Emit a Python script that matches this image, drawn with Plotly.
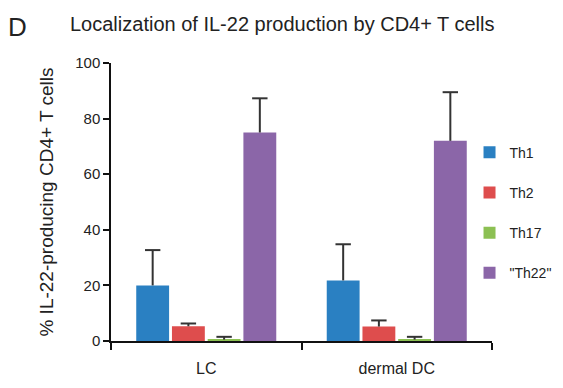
import plotly.graph_objects as go

categories = ["LC", "dermal DC"]
series_names = ["Th1", "Th2", "Th17", "\"Th22\""]
values = {
    "Th1": [20.0, 21.8],
    "Th2": [5.3, 5.2],
    "Th17": [0.5, 0.5],
    "\"Th22\"": [75.0, 72.0],
}
errors = {
    "Th1": [12.7, 13.0],
    "Th2": [1.0, 2.2],
    "Th17": [1.0, 1.0],
    "\"Th22\"": [12.3, 17.5],
}
colors = ["#2A80C2", "#DE4D4D", "#8CC053", "#8B66A8"]
y_ticks = [0, 20, 40, 60, 80, 100]

FONT = "Liberation Sans, Arial, Helvetica, sans-serif"
INK = "#222222"

fig = go.Figure()
for i, name in enumerate(series_names):
    fig.add_trace(go.Bar(
        x=categories, y=values[name], name=name,
        marker=dict(color=colors[i], line=dict(width=0)),
        offsetgroup=name, legendgroup=name,
    ))
# one-sided error bars (upper only), drawn as grouped scatter points
for i, name in enumerate(series_names):
    tops = [v + e for v, e in zip(values[name], errors[name])]
    fig.add_trace(go.Scatter(
        x=categories, y=tops, mode="markers", showlegend=False,
        offsetgroup=name, hoverinfo="skip",
        marker=dict(symbol="line-ew", size=11, color="#333333",
                    line=dict(width=2, color="#333333")),
        error_y=dict(type="data", array=[0] * len(categories),
                     arrayminus=errors[name], symmetric=False,
                     color="#333333", thickness=2, width=0),
    ))

# page has an 8px body margin; figure sized to end at the window edge
W, H = 555, 380
L, T = 103, 55
PW, PH = 381, 278
R, B = W - L - PW, H - T - PH
fig.update_layout(
    width=W, height=H,
    margin=dict(l=L, r=R, t=T, b=B, autoexpand=False),
    paper_bgcolor="white", plot_bgcolor="white",
    font=dict(family=FONT, size=15, color=INK),
    barmode="group", bargap=0.25, bargroupgap=0.08,
    scattermode="group", scattergap=0.25,
    showlegend=True,
    legend=dict(x=0.941, y=0.735, xanchor="left", yanchor="top",
                tracegroupgap=19, font=dict(size=14),
                bgcolor="rgba(0,0,0,0)"),
    xaxis=dict(showline=True, linecolor="#111111", linewidth=1.5,
               ticks="outside", tickson="boundaries", ticklen=7,
               tickcolor="#111111", tickwidth=1.5, automargin=False,
               ticklabelstandoff=12, showgrid=False,
               tickfont=dict(size=16)),
    yaxis=dict(range=[0, 100], tickvals=y_ticks, showline=True,
               linecolor="#111111", linewidth=1.5, ticks="outside",
               ticklen=6, tickcolor="#111111", tickwidth=1.5,
               showgrid=False, zeroline=False, automargin=False,
               title=dict(text="% IL-22-producing CD4+ T cells",
                          font=dict(size=19), standoff=17),
               tickfont=dict(size=15)),
)
# positions below are page pixels; plot area starts at page x=111, bottom y=341
fig.update_layout(annotations=[
    dict(text="D", x=(6 - 111) / PW, y=(341 - 27) / PH,
         xref="paper", yref="paper", xanchor="left", yanchor="middle",
         showarrow=False, font=dict(size=26, color=INK)),
    dict(text="Localization of IL-22 production by CD4+ T cells",
         x=(68 - 111) / PW, y=(341 - 24) / PH,
         xref="paper", yref="paper", xanchor="left", yanchor="middle",
         showarrow=False, font=dict(size=20, color=INK)),
])

fig.write_html("out.html")
